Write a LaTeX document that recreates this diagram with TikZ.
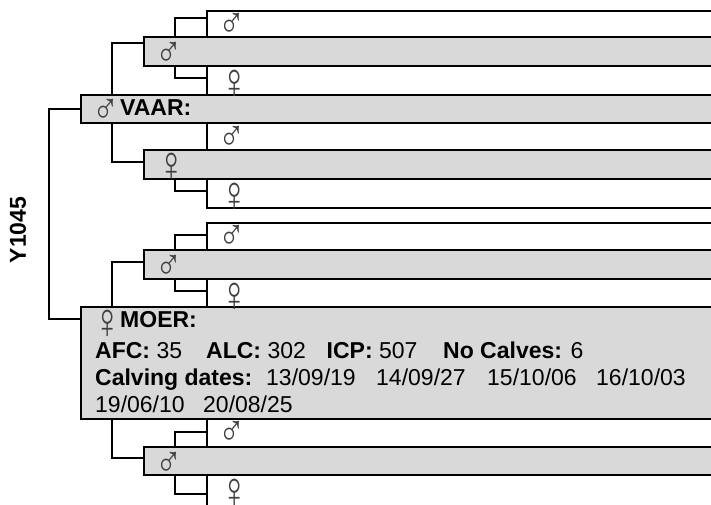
\documentclass[tikz,border=0pt]{standalone}
\usepackage{fontspec}
\setmainfont{Liberation Sans}
\usetikzlibrary{calc}
\definecolor{boxgray}{RGB}{217,217,217}
\newcommand{\malesym}{\scalebox{1}[1.2]{♂}}
\newcommand{\femsym}{\scalebox{1.05}[1.4]{♀}}
\begin{document}
\begin{tikzpicture}[x=1pt,y=-1pt,
  box/.style={draw=black,line width=2pt,rectangle,anchor=north west,minimum width=720pt,inner sep=0pt},
  wbox/.style={box,fill=white},
  gbox/.style={box,fill=boxgray},
  conn/.style={draw=black,line width=2pt},
  msym/.style={anchor=base west,inner sep=0pt,text=black!75,font=\fontsize{36}{40}\selectfont},
  fsym/.style={anchor=base west,inner sep=0pt,text=black!75,font=\fontsize{36}{40}\selectfont},
  txt/.style={anchor=base west,inner sep=0pt,font=\fontsize{23}{27}\selectfont},
  head/.style={anchor=base west,inner sep=0pt,font=\fontsize{23}{27}\selectfont\bfseries}]
\useasboundingbox (0,0) rectangle (711,504);
\clip (0,0) rectangle (711,504);
\fill[white] (0,0) rectangle (711,504);
% boxes
\node[wbox,minimum height=26pt] (w1) at (206,10) {};
\node[gbox,minimum height=29pt] (g1) at (143,36) {};
\node[wbox,minimum height=29pt] (w2) at (206,65) {};
\node[gbox,minimum height=28pt] (vaar) at (80,94) {};
\node[wbox,minimum height=27pt] (w3) at (206,122) {};
\node[gbox,minimum height=29pt] (g2) at (143,149) {};
\node[wbox,minimum height=29pt] (w4) at (206,178) {};
\node[wbox,minimum height=27pt] (w5) at (206,222) {};
\node[gbox,minimum height=29pt] (g3) at (143,249) {};
\node[wbox,minimum height=28pt] (w6) at (206,278) {};
\node[gbox,minimum height=112pt] (moer) at (80,306) {};
\node[wbox,minimum height=28pt] (w7) at (206,418) {};
\node[gbox,minimum height=28pt] (g4) at (143,446) {};
\node[wbox,minimum height=42pt] (w8) at (206,474) {};
% symbols
\node[msym] (s1) at ($(w1.north west)+(12,27)$) {\malesym};
\node[msym] (s2) at ($(g1.north west)+(12,30)$) {\malesym};
\node[fsym] (s3) at ($(w2.north west)+(14,33)$) {\femsym};
\node[msym] (s4) at ($(vaar.north west)+(12,29)$) {\malesym};
\node[head] (vaart) at ($(vaar.north west)+(40,21)$) {VAAR:};
\node[msym] (s5) at ($(w3.north west)+(12,28)$) {\malesym};
\node[fsym] (s6) at ($(g2.north west)+(14,32)$) {\femsym};
\node[fsym] (s7) at ($(w4.north west)+(14,33)$) {\femsym};
\node[msym] (s8) at ($(w5.north west)+(12,27)$) {\malesym};
\node[msym] (s9) at ($(g3.north west)+(12,30)$) {\malesym};
\node[fsym] (s10) at ($(w6.north west)+(14,33)$) {\femsym};
\node[fsym] (s11) at ($(moer.north west)+(13,32)$) {\femsym};
\node[head] (moert) at ($(moer.north west)+(40,21)$) {MOER:};
\node[msym] (s12) at ($(w7.north west)+(12,27)$) {\malesym};
\node[msym] (s13) at ($(g4.north west)+(12,30)$) {\malesym};
\node[fsym] (s14) at ($(w8.north west)+(14,33)$) {\femsym};
% MOER details
\node[txt] (afc) at (95,358) {\textbf{AFC:} 35};
\node[txt] (alc) at (206,358) {\textbf{ALC:} 302};
\node[txt] (icp) at (326.5,358) {\textbf{ICP:} 507};
\node[txt] (nc) at (443,358) {\textbf{No Calves:} 6};
\node[txt] (cd) at (95,385) {\textbf{Calving dates:}};
\node[txt] (d1) at (266,385) {13/09/19};
\node[txt] (d2) at (376,385) {14/09/27};
\node[txt] (d3) at (487,385) {15/10/06};
\node[txt] (d4) at (596,385) {16/10/03};
\node[txt] (d5) at (95,412) {19/06/10};
\node[txt] (d6) at (203,412) {20/08/25};
% side label
\node[rotate=90,inner sep=0pt,font=\fontsize{23}{27}\selectfont\bfseries] (id) at (18,230) {Y1045};
% connectors
\draw[conn] (vaar.west) -- ++(-31,0) |- ($(moer.north west)+(0,13)$);
\draw[conn] ($(g1.north west)+(0,6.7)$) -| ($(vaar.north west)+(32,0)$);
\draw[conn] ($(vaar.south west)+(32,0)$) |- ($(g2.north west)+(0,12.7)$);
\draw[conn] ($(g3.north west)+(0,12.7)$) -| ($(moer.north west)+(32,0)$);
\draw[conn] ($(moer.south west)+(32,0)$) |- ($(g4.north west)+(0,12.3)$);
\draw[conn] ($(w1.north west)+(0,7.5)$) -| ($(g1.north west)+(32,0)$);
\draw[conn] ($(g1.south west)+(32,0)$) |- ($(w2.north west)+(0,12.7)$);
\draw[conn] ($(g2.south west)+(32,0)$) |- ($(w4.north west)+(0,12.7)$);
\draw[conn] ($(w5.north west)+(0,13)$) -| ($(g3.north west)+(32,0)$);
\draw[conn] ($(g3.south west)+(32,0)$) |- ($(w6.north west)+(0,12.7)$);
\draw[conn] ($(w7.north west)+(0,14.3)$) -| ($(g4.north west)+(32,0)$);
\draw[conn] ($(g4.south west)+(32,0)$) |- ($(w8.north west)+(0,20.3)$);
\end{tikzpicture}
\end{document}
